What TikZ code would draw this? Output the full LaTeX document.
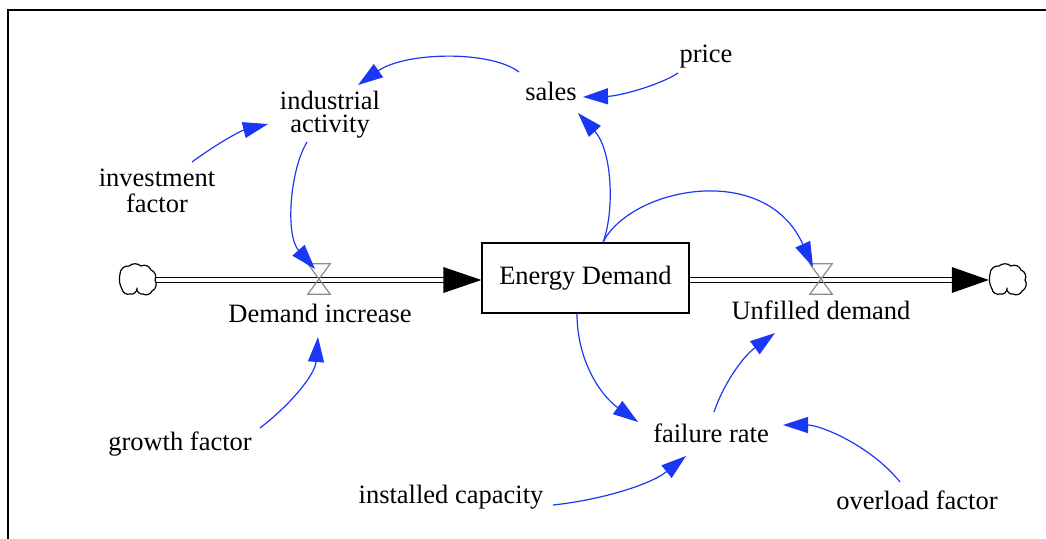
\documentclass[tikz,border=0pt]{standalone}
\usepackage{fontspec}
\setmainfont{Liberation Serif}
\usetikzlibrary{calc,arrows.meta}
\definecolor{infblue}{RGB}{25,55,245}
\newcommand{\sdcloud}[1]{%
  \draw[cloudshape] ($(#1)+(-17,-6)$) to[bend left=50] ($(#1)+(-8,-14)$)
    to[bend left=40] ($(#1)+(4,-14)$) to[bend left=50] ($(#1)+(14,-10)$)
    to[bend left=50] ($(#1)+(18,0)$) to[bend left=50] ($(#1)+(15,11)$)
    to[bend left=50] ($(#1)+(6,14)$) to[bend left=60] ($(#1)+(0,8)$)
    to[bend left=60] ($(#1)+(-7,14)$) to[bend left=50] ($(#1)+(-15,9)$)
    to[bend left=20] ($(#1)+(-17,-6)$) -- cycle;}
\begin{document}
\begin{tikzpicture}[x=1pt,y=-1pt,
  lbl/.style={inner sep=0pt, font=\fontsize{26.5}{23}\selectfont},
  infl/.style={draw=infblue, line width=1.2pt, -{Triangle[length=25pt,width=16pt]}},
  pipe/.style={draw=black, line width=1.3pt, double=white, double distance=3.5pt},
  valveshape/.style={draw=black!45, line width=1.2pt},
  cloudshape/.style={draw=black, line width=1.2pt, line join=round},
  headfill/.style={fill=black}
]
\useasboundingbox (0,0) rectangle (1046,538);
\draw[line width=2pt] (8,542) -- (8,10) -- (1050,10);

% text nodes
\node[lbl, align=center, font=\fontsize{26.5}{23}\selectfont] (ia) at (330,115) {industrial\\activity};
\node[lbl, align=center, font=\fontsize{26.5}{26}\selectfont] (inv) at (157,191) {investment\\factor};
\node[lbl, anchor=base] (sales) at (551,100) {sales};
\node[lbl, anchor=base] (price) at (706,62) {price};
\node[draw, line width=1.3pt, minimum width=207pt, minimum height=70pt, inner sep=0pt,
      font=\fontsize{26.5}{22}\selectfont] (ED) at (585.5,278) {Energy Demand};
\node[lbl, anchor=base] (DI) at (320,322) {Demand increase};
\node[lbl, anchor=base] (UD) at (821,319) {Unfilled demand};
\node[lbl, anchor=base] (gf) at (180,450) {growth factor};
\node[lbl, anchor=base] (fr) at (711,442) {failure rate};
\node[lbl, anchor=base] (ic) at (451,503) {installed capacity};
\node[lbl, anchor=base] (of) at (917,509) {overload factor};

% clouds and valves
\node[minimum width=36pt, minimum height=30pt, inner sep=0pt] (cL) at (137,280) {};
\node[minimum width=36pt, minimum height=30pt, inner sep=0pt] (cR) at (1007,280) {};
\node[minimum width=22pt, minimum height=30pt, inner sep=0pt] (vL) at (319,279) {};
\node[minimum width=22pt, minimum height=30pt, inner sep=0pt] (vR) at (821,279) {};

% pipes
\draw[pipe] (cL.east) -- ($(ED.west)+(-37,2)$);
\fill[headfill] ($(ED.west)+(-38,-11)$) -- ($(ED.west)+(0,2)$) -- ($(ED.west)+(-38,15)$) -- cycle;
\draw[pipe] ($(ED.east)+(0,2)$) -- ($(cR.west)+(-36,0)$);
\fill[headfill] ($(cR.west)+(-37,-13)$) -- (cR.west) -- ($(cR.west)+(-37,13)$) -- cycle;
\sdcloud{cL}
\sdcloud{cR}
\draw[valveshape] (vL.north west) -- (vL.north east) -- (vL.south west) -- (vL.south east) -- cycle;
\draw[valveshape] (vR.north west) -- (vR.north east) -- (vR.south west) -- (vR.south east) -- cycle;

% influence arrows
\draw[infl] ($(sales.base)+(-32,-28)$) .. controls (490,50) and (405,52) .. ($(ia.center)+(28,-30)$);
\draw[infl] ($(price.base)+(-28,11)$) .. controls (660,85) and (620,96) .. ($(sales.base)+(32,-3)$);
\draw[infl] ($(inv.center)+(35,-29)$) .. controls (215,145) and (240,131) .. ($(ia.center)+(-62,9)$);
\draw[infl] ($(ia.center)+(-23,27)$) .. controls (290,170) and (285,235) .. ($(vL.center)+(-4,-10)$);
\draw[infl] ($(ED.north)+(17.5,0)$) .. controls (615,210) and (612,150) .. ($(sales.base)+(27,13)$);
\draw[infl] ($(ED.north)+(17.5,0)$) .. controls (630,188) and (765,160) .. ($(vR.center)+(-8,-12)$);
\draw[infl] ($(ED.south)+(-8.5,0)$) .. controls (577,360) and (600,395) .. ($(fr.base)+(-73,-20)$);
\draw[infl] ($(fr.base)+(3,-30)$) .. controls (725,380) and (745,355) .. ($(UD.base)+(-46,14)$);
\draw[infl] ($(gf.base)+(80,-22)$) .. controls (290,405) and (315,375) .. ($(DI.base)+(-2,15)$);
\draw[infl] ($(ic.base)+(102,2)$) .. controls (600,500) and (650,485) .. ($(fr.base)+(-25,14)$);
\draw[infl] ($(of.base)+(-17,-27)$) .. controls (870,445) and (820,425) .. ($(fr.base)+(72,-17)$);
\end{tikzpicture}
\end{document}
